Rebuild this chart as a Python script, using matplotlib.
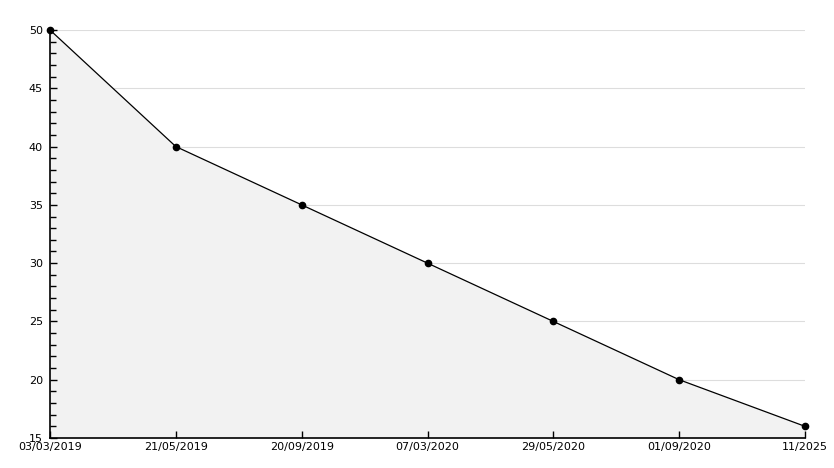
import matplotlib
matplotlib.use("Agg")
import matplotlib.pyplot as plt
from matplotlib.ticker import MultipleLocator

labels = ["03/03/2019", "21/05/2019", "20/09/2019", "07/03/2020", "29/05/2020", "01/09/2020", "11/2025"]
values = [50, 40, 35, 30, 25, 20, 16]

fig = plt.figure(figsize=(8.34, 4.68), dpi=100)
W, H = 834, 468
ax = fig.add_axes([50 / W, (H - 438) / H, (805 - 50) / W, (438 - 30) / H])

x = list(range(len(values)))
ax.set_xlim(0, len(values) - 1)
ax.set_ylim(15, 50)
ax.yaxis.set_major_locator(MultipleLocator(5))
ax.yaxis.set_minor_locator(MultipleLocator(1))

# horizontal grid drawn under the fill
for yv in ax.get_yticks():
    if 15 < yv <= 50:
        ax.axhline(yv, color="#dddddd", linewidth=0.8, zorder=0.5)

ax.fill_between(x, values, 15, color="#f2f2f2", linewidth=0, zorder=1)
ax.plot(x, values, color="black", linewidth=0.9, marker="o", markersize=4.5, zorder=3, clip_on=False)

ax.set_xticks(x)
ax.set_xticklabels(labels)

for s in ["top", "right"]:
    ax.spines[s].set_visible(False)
for s in ["left", "bottom"]:
    ax.spines[s].set_linewidth(1.2)
    ax.spines[s].set_zorder(4)

ax.tick_params(axis="y", which="major", direction="in", length=5, width=1, labelsize=8, pad=5)
ax.tick_params(axis="y", which="minor", direction="in", length=4, width=1)
ax.tick_params(axis="x", which="major", direction="in", length=5, width=1, labelsize=8, pad=3)

fig.savefig("out.png", dpi=100)
